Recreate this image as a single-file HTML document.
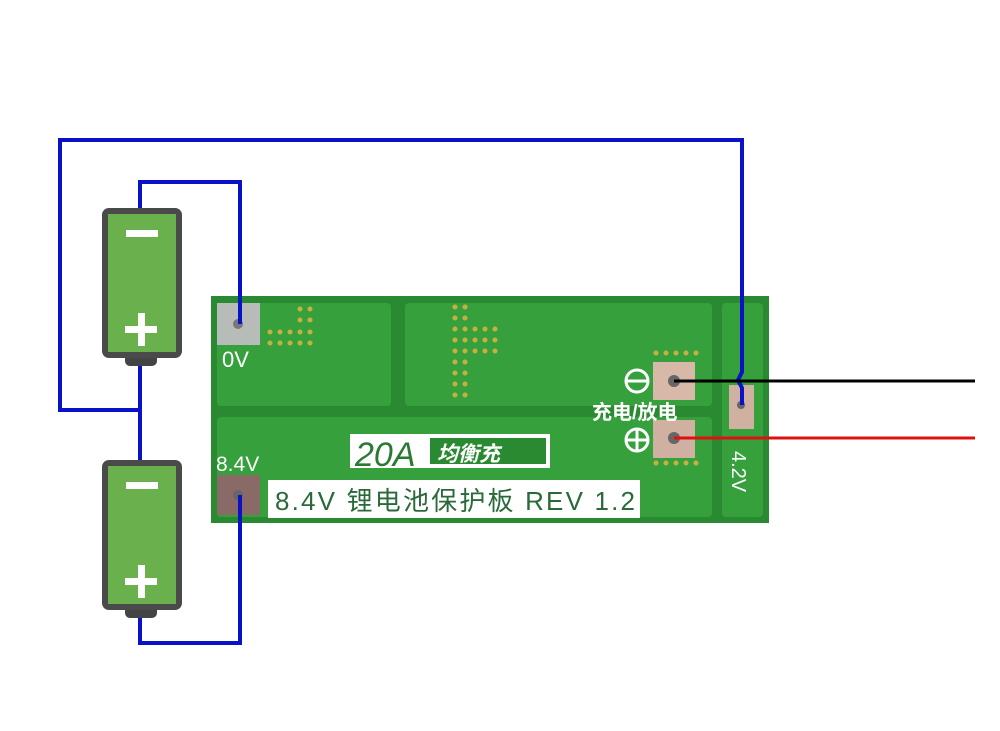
<!DOCTYPE html>
<html><head><meta charset="utf-8"><style>
body{margin:0;width:1000px;height:731px;background:#fff;overflow:hidden;position:relative;font-family:"Liberation Sans","Noto Sans CJK SC",sans-serif}
.a{position:absolute}
</style></head><body>
<svg class="a" style="left:0;top:0" width="1000" height="731">
<rect x="211" y="296" width="558" height="227" fill="#2a8a32"/>
<rect x="217" y="303" width="174" height="103" rx="4" fill="#36a03c"/>
<rect x="405" y="303" width="307" height="103" rx="4" fill="#36a03c"/>
<rect x="217" y="417" width="495" height="100" rx="4" fill="#36a03c"/>
<rect x="722" y="303" width="41" height="214" rx="4" fill="#36a03c"/>
<rect x="217" y="303" width="43" height="42" fill="#b8bcb8"/>
<circle cx="238" cy="324" r="5" fill="#777"/>
<rect x="217" y="475" width="43" height="40" fill="#8a6a66"/>
<circle cx="238" cy="495" r="5" fill="#666"/>
<rect x="653" y="362" width="42" height="38" fill="#d8b8a8"/>
<circle cx="674" cy="381" r="6" fill="#666"/>
<rect x="653" y="420" width="42" height="38" fill="#d0b0a0"/>
<circle cx="674" cy="438" r="6" fill="#666"/>
<rect x="729" y="385" width="25" height="44" fill="#d0b0a0"/>
<circle cx="741" cy="405" r="4" fill="#666"/>
<g fill="#c8b040">
<circle cx="300" cy="309" r="2.5"/><circle cx="310" cy="309" r="2.5"/>
<circle cx="300" cy="320" r="2.5"/><circle cx="310" cy="320" r="2.5"/>
<circle cx="270" cy="332" r="2.5"/><circle cx="280" cy="332" r="2.5"/><circle cx="290" cy="332" r="2.5"/><circle cx="300" cy="332" r="2.5"/><circle cx="310" cy="332" r="2.5"/>
<circle cx="270" cy="343" r="2.5"/><circle cx="280" cy="343" r="2.5"/><circle cx="290" cy="343" r="2.5"/><circle cx="300" cy="343" r="2.5"/><circle cx="310" cy="343" r="2.5"/>
<circle cx="455" cy="307" r="2.5"/><circle cx="465" cy="307" r="2.5"/>
<circle cx="455" cy="318" r="2.5"/><circle cx="465" cy="318" r="2.5"/>
<circle cx="455" cy="329" r="2.5"/><circle cx="465" cy="329" r="2.5"/><circle cx="475" cy="329" r="2.5"/><circle cx="485" cy="329" r="2.5"/><circle cx="495" cy="329" r="2.5"/>
<circle cx="455" cy="340" r="2.5"/><circle cx="465" cy="340" r="2.5"/><circle cx="475" cy="340" r="2.5"/><circle cx="485" cy="340" r="2.5"/><circle cx="495" cy="340" r="2.5"/>
<circle cx="455" cy="351" r="2.5"/><circle cx="465" cy="351" r="2.5"/><circle cx="475" cy="351" r="2.5"/><circle cx="485" cy="351" r="2.5"/><circle cx="495" cy="351" r="2.5"/>
<circle cx="455" cy="362" r="2.5"/><circle cx="465" cy="362" r="2.5"/>
<circle cx="455" cy="373" r="2.5"/><circle cx="465" cy="373" r="2.5"/>
<circle cx="455" cy="384" r="2.5"/><circle cx="465" cy="384" r="2.5"/>
<circle cx="455" cy="395" r="2.5"/><circle cx="465" cy="395" r="2.5"/>
<circle cx="656" cy="353" r="2.5"/><circle cx="666" cy="353" r="2.5"/><circle cx="676" cy="353" r="2.5"/><circle cx="686" cy="353" r="2.5"/><circle cx="696" cy="353" r="2.5"/>
<circle cx="656" cy="463" r="2.5"/><circle cx="666" cy="463" r="2.5"/><circle cx="676" cy="463" r="2.5"/><circle cx="686" cy="463" r="2.5"/><circle cx="696" cy="463" r="2.5"/>
<circle cx="536" cy="453" r="2.5"/>
</g>
<circle cx="637" cy="381" r="11" fill="none" stroke="#fff" stroke-width="3"/>
<line x1="626" y1="381" x2="648" y2="381" stroke="#fff" stroke-width="3"/>
<circle cx="637" cy="440" r="11" fill="none" stroke="#fff" stroke-width="3"/>
<line x1="626" y1="440" x2="648" y2="440" stroke="#fff" stroke-width="3"/>
<line x1="637" y1="429" x2="637" y2="451" stroke="#fff" stroke-width="3"/>
<rect x="350" y="434" width="200" height="34" fill="#fff"/>
<rect x="430" y="438" width="116" height="26" fill="#2a8a32"/>
<rect x="268" y="480" width="372" height="38" fill="#fff"/>
<g>
<rect x="125" y="352" width="32" height="14" rx="5" fill="#444"/>
<rect x="102" y="208" width="80" height="150" rx="7" fill="#4a4a4a"/>
<rect x="108" y="214" width="68" height="138" fill="#6ab04c"/>
<rect x="125" y="604" width="32" height="14" rx="5" fill="#444"/>
<rect x="102" y="460" width="80" height="150" rx="7" fill="#4a4a4a"/>
<rect x="108" y="466" width="68" height="138" fill="#6ab04c"/>
<g fill="#fff">
<rect x="126" y="230" width="32" height="7"/>
<rect x="125" y="326" width="32" height="7"/><rect x="138" y="313" width="7" height="33"/>
<rect x="126" y="482" width="32" height="7"/>
<rect x="125" y="578" width="32" height="7"/><rect x="138" y="565" width="7" height="33"/>
</g>
</g>
<g fill="none" stroke="#0a12c8" stroke-width="4">
<polyline points="140,208 140,182 240,182 240,324"/>
<polyline points="140,366 140,460"/>
<polyline points="140,410 60,410 60,140 742,140 742,372 738,380 742,388 742,405"/>
<polyline points="140,618 140,643 240,643 240,495"/>
</g>
<line x1="674" y1="381" x2="975" y2="381" stroke="#000" stroke-width="3"/>
<line x1="674" y1="438" x2="975" y2="438" stroke="#e01010" stroke-width="3"/>
<text x="222" y="367" font-size="22" fill="#fff" font-family="Liberation Sans,sans-serif">0V</text>
<text x="216" y="471" font-size="21" fill="#fff" font-family="Liberation Sans,sans-serif">8.4V</text>
<text x="592" y="419" font-size="20" font-weight="bold" fill="#fff" font-family="Liberation Sans,Noto Sans CJK SC,sans-serif">充电/放电</text>
<text x="355" y="466" font-size="34" font-style="italic" fill="#2a7a32" font-family="Liberation Sans,sans-serif">20A</text>
<text x="437" y="461" font-size="21" font-style="italic" font-weight="bold" fill="#fff" font-family="Liberation Sans,Noto Sans CJK SC,sans-serif">均衡充</text>
<text x="275" y="510" font-size="26" fill="#2a6a3a" textLength="360" font-family="Liberation Sans,Noto Sans CJK SC,sans-serif">8.4V 锂电池保护板 REV 1.2</text>
<text transform="translate(732,451) rotate(90)" font-size="20" fill="#fff" font-family="Liberation Sans,sans-serif">4.2V</text>
</svg>
</body></html>
